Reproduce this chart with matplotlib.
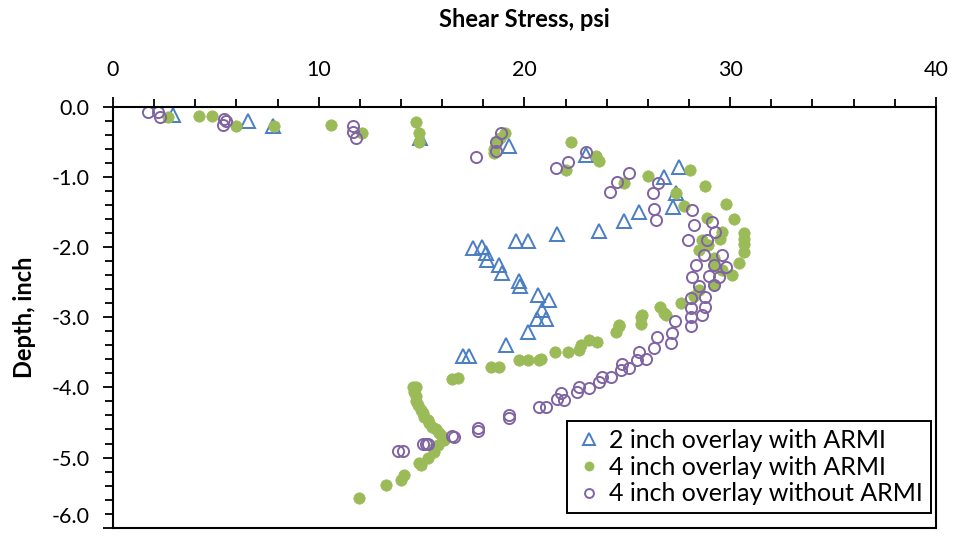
import matplotlib
matplotlib.use("Agg")
import matplotlib.pyplot as plt
from matplotlib.ticker import MultipleLocator, FixedLocator, FixedFormatter
from matplotlib.transforms import ScaledTranslation

plt.rcParams['font.family'] = ['Lato', 'DejaVu Sans']

# 2 inch overlay with ARMI
blue_x = [2.9, 6.55, 7.8, 14.9, 19.26, 22.98, 27.5, 26.8, 27.35, 27.2, 25.57, 24.84,
          23.6, 21.6, 20.15, 19.6, 17.93, 17.48, 18.13, 18.2, 18.77, 18.9, 19.74, 19.8,
          20.68, 21.2, 20.87, 20.63, 21.04, 20.15, 19.1, 17.3, 17.02]
blue_y = [-0.12, -0.20, -0.27, -0.45, -0.56, -0.69, -0.86, -1.0, -1.23, -1.43, -1.5, -1.63,
          -1.77, -1.81, -1.92, -1.92, -2.0, -2.02, -2.09, -2.18, -2.26, -2.37, -2.49, -2.56,
          -2.68, -2.75, -2.9, -3.02, -3.02, -3.21, -3.4, -3.56, -3.56]

# 4 inch overlay with ARMI
green_x = [2.67, 4.17, 4.83, 5.99, 7.85, 10.6, 12.09, 14.73, 14.86, 14.86, 19.06, 18.8,
           18.6, 18.5, 18.5, 22.25, 22.0, 23.47, 23.6, 26.0, 24.84, 28.03, 28.8, 27.35,
           29.8, 27.75, 30.18, 28.88, 30.66, 30.66, 30.66, 30.66, 29.6, 29.5, 28.64, 28.9,
           30.42, 30.1, 28.48, 29.2, 29.2, 29.6, 29.2, 28.48, 28.24, 27.6, 26.6, 26.78,
           26.86, 25.65, 25.73, 25.65, 24.6, 24.6, 24.44, 23.54, 23.14, 22.74, 22.65, 22.1,
           21.5, 20.8, 20.7, 20.15, 19.74, 18.77, 18.37, 16.75, 16.5,
           14.56, 14.73, 14.65, 14.73, 14.73, 14.81, 14.97, 15.05, 15.13, 15.3, 15.37, 15.53,
           15.7, 15.86, 16.0, 16.1, 15.78, 15.62, 15.62, 15.3, 14.97, 14.89, 14.16, 14.0,
           13.27, 11.94]
green_y = [-0.14, -0.13, -0.13, -0.27, -0.27, -0.26, -0.38, -0.22, -0.37, -0.50, -0.38, -0.45,
           -0.51, -0.60, -0.66, -0.50, -0.90, -0.70, -0.78, -0.99, -1.09, -0.90, -1.13, -1.23,
           -1.38, -1.42, -1.60, -1.59, -1.80, -1.88, -1.95, -2.07, -1.78, -1.88, -1.90, -1.97,
           -2.23, -2.40, -2.04, -2.15, -2.26, -2.33, -2.54, -2.61, -2.70, -2.80, -2.85, -2.94,
           -2.97, -2.99, -2.97, -3.09, -3.11, -3.13, -3.21, -3.35, -3.32, -3.40, -3.47, -3.49,
           -3.49, -3.59, -3.61, -3.61, -3.61, -3.71, -3.71, -3.87, -3.88,
           -4.0, -4.0, -4.07, -4.13, -4.2, -4.25, -4.32, -4.37, -4.42, -4.47, -4.51, -4.56,
           -4.6, -4.65, -4.7, -4.75, -4.82, -4.87, -4.92, -5.01, -5.11, -5.08, -5.25, -5.32,
           -5.39, -5.58]

# 4 inch overlay without ARMI
purple_x = [1.70, 2.18, 2.27, 5.42, 5.34, 5.5, 11.65, 11.68, 11.8, 18.85, 18.64, 18.64,
            17.64, 22.98, 22.14, 21.55, 25.1, 24.5, 24.14, 26.5, 26.25, 26.3, 26.4, 28.13,
            28.24, 27.96, 29.13, 29.26, 28.88, 28.72, 29.61, 29.78, 29.2, 28.32, 28.16, 28.97,
            29.45, 28.48, 29.2, 28.8, 28.08, 28.8, 28.08, 28.64, 28.08, 28.08, 27.3, 27.18,
            26.46, 27.1, 26.3, 25.57, 25.89, 25.49, 24.76, 25.08, 24.68, 24.19, 23.79, 23.63,
            23.14, 22.65, 22.57, 21.77, 21.93, 21.6, 21.04, 20.71, 19.26, 19.26, 17.72, 17.72,
            16.5, 16.6, 15.05, 15.3, 15.2, 13.83, 14.08]
purple_y = [-0.08, -0.08, -0.14, -0.17, -0.26, -0.21, -0.28, -0.36, -0.45, -0.38, -0.50, -0.63,
            -0.72, -0.65, -0.79, -0.88, -0.94, -1.07, -1.21, -1.09, -1.23, -1.46, -1.61, -1.47,
            -1.69, -1.90, -1.64, -1.78, -1.90, -2.11, -2.11, -2.28, -2.26, -2.26, -2.42, -2.41,
            -2.42, -2.56, -2.54, -2.71, -2.73, -2.85, -2.87, -2.97, -2.99, -3.13, -3.05, -3.23,
            -3.28, -3.37, -3.44, -3.50, -3.59, -3.61, -3.66, -3.73, -3.75, -3.85, -3.85, -3.92,
            -4.01, -3.99, -4.06, -4.08, -4.18, -4.16, -4.28, -4.28, -4.40, -4.44, -4.58, -4.62,
            -4.69, -4.71, -4.81, -4.81, -4.80, -4.90, -4.90]

series_labels = ["2 inch overlay with ARMI", "4 inch overlay with ARMI",
                 "4 inch overlay without ARMI"]
x_ticks = [0, 10, 20, 30, 40]
y_ticks = [0.0, -1.0, -2.0, -3.0, -4.0, -5.0, -6.0]
y_tick_labels = ["0.0", "-1.0", "-2.0", "-3.0", "-4.0", "-5.0", "-6.0"]

fig = plt.figure(figsize=(9.55, 5.37), dpi=100)
ax = fig.add_axes([0.1183, 0.0173, 0.8617, 0.7840])

ax.plot(blue_x, blue_y, linestyle='none', marker='^', markersize=10.5,
        markerfacecolor='none', markeredgecolor='#4A7EC2', markeredgewidth=1.4,
        label=series_labels[0])
ax.plot(green_x, green_y, linestyle='none', marker='o', markersize=8.2,
        markerfacecolor='#9BBB59', markeredgecolor='#9BBB59', markeredgewidth=0.5,
        label=series_labels[1])
ax.plot(purple_x, purple_y, linestyle='none', marker='o', markersize=8,
        markerfacecolor='none', markeredgecolor='#8064A2', markeredgewidth=1.4,
        label=series_labels[2])

ax.set_xlim(0, 40)
ax.set_ylim(-6, 0)
ax.xaxis.set_ticks_position('top')
ax.xaxis.set_label_position('top')
ax.xaxis.set_major_locator(FixedLocator(x_ticks))
ax.xaxis.set_minor_locator(MultipleLocator(2))
ax.yaxis.set_major_locator(FixedLocator(y_ticks))
ax.yaxis.set_major_formatter(FixedFormatter(y_tick_labels))
ax.yaxis.set_minor_locator(MultipleLocator(0.2))

ax.tick_params(axis='both', which='major', direction='out', length=7, width=1.3,
               labelsize=15.5, colors='black')
ax.tick_params(axis='both', which='minor', direction='out', length=6, width=1.3)
ax.tick_params(axis='x', which='both', top=True, bottom=False, pad=12)
ax.tick_params(axis='y', which='both', left=True, right=False, pad=10)

for side in ['top', 'bottom', 'left', 'right']:
    ax.spines[side].set_linewidth(1.5)
    ax.spines[side].set_color('black')

# keep the lowest depth label inside the figure
fig.canvas.draw()
lowest = ax.yaxis.get_major_ticks()[-1].label1
lowest.set_transform(lowest.get_transform()
                     + ScaledTranslation(0, 9 / 72, fig.dpi_scale_trans))

ax.set_xlabel("Shear Stress, psi", fontsize=17, fontweight='bold')
ax.xaxis.set_label_coords(0.5, 1.19)
ax.set_ylabel("Depth, inch", fontsize=17, fontweight='bold')
ax.yaxis.set_label_coords(-0.093, 0.5)

leg = ax.legend(loc='lower right', bbox_to_anchor=(0.9935, 0.035), borderaxespad=0,
                fontsize=18, frameon=True, fancybox=False, edgecolor='black',
                framealpha=1, markerscale=0.8, handlelength=1.2, handletextpad=0.2,
                borderpad=0.3, labelspacing=0.15)
leg.get_frame().set_linewidth(1.4)

fig.savefig("out.png", dpi=100)
